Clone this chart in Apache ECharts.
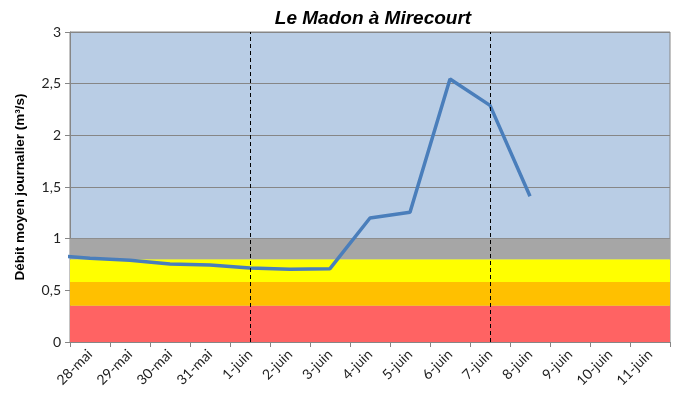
<!DOCTYPE html>
<html>
<head>
<meta charset="utf-8">
<script src="https://cdn.jsdelivr.net/npm/echarts@6/dist/echarts.min.js"></script>
<style>
html,body{margin:0;padding:0;background:#fff}
#chart{width:675px;height:405px}
</style>
</head>
<body>
<div id="chart"></div>
<script>
// jours (27-mai sert juste à faire partir la courbe du bord gauche)
var jours = ['27-mai','28-mai','29-mai','30-mai','31-mai','1-juin','2-juin','3-juin','4-juin','5-juin','6-juin','7-juin','8-juin','9-juin','10-juin','11-juin'];
var debit = [0.84, 0.81, 0.79, 0.755, 0.745, 0.715, 0.705, 0.71, 1.2, 1.255, 2.545, 2.29, 1.41];
// seuils des bandes (m3/s)
var seuils = [0, 0.35, 0.58, 0.8, 1.0];
var reperes = ['1-juin', '7-juin'];

var couleurs = ['#FF6363', '#FFC000', '#FFFF00', '#A6A6A6'];

var bandes = [];
for (var i = 0; i < seuils.length - 1; i++) {
  bandes.push([{yAxis: seuils[i], itemStyle: {color: couleurs[i]}}, {yAxis: seuils[i + 1]}]);
}

var chart = echarts.init(document.getElementById('chart'));
chart.setOption({
  animation: false,
  title: {
    text: 'Le Madon à Mirecourt',
    left: 368,
    top: 4,
    textAlign: 'center',
    textStyle: {fontFamily: 'Liberation Sans', fontSize: 19, fontWeight: 'bold', fontStyle: 'italic', color: '#000'}
  },
  grid: {
    left: 70, right: 5, top: 32, bottom: 63,
    show: true, backgroundColor: '#B9CDE5', borderColor: '#868686', borderWidth: 1
  },
  xAxis: {
    type: 'category',
    data: jours,
    min: 1,
    boundaryGap: true,
    axisLine: {lineStyle: {color: '#868686'}},
    axisTick: {show: true, interval: 0, length: 5, lineStyle: {color: '#868686'}},
    axisLabel: {interval: 0, rotate: 45, fontFamily: 'Lato', fontSize: 14, color: '#222', margin: 10},
    splitLine: {show: false}
  },
  yAxis: {
    type: 'value',
    min: 0, max: 3, interval: 0.5,
    name: 'Débit moyen journalier (m³/s)',
    nameLocation: 'middle',
    nameGap: 43,
    nameTextStyle: {fontFamily: 'Liberation Sans', fontSize: 13.5, fontWeight: 'bold', color: '#000'},
    axisLine: {show: true, lineStyle: {color: '#868686'}},
    axisTick: {show: true, length: 5, lineStyle: {color: '#868686'}},
    axisLabel: {
      fontFamily: 'Lato', fontSize: 14, color: '#222', margin: 9,
      formatter: function (v) { return String(v).replace('.', ','); }
    },
    splitLine: {lineStyle: {color: '#868686', width: 1}}
  },
  series: [
    {
      type: 'line',
      data: [],
      z: 1,
      silent: true,
      markArea: {silent: true, data: bandes},
      markLine: {
        silent: true,
        symbol: 'none',
        label: {show: false},
        lineStyle: {color: '#000', type: [4, 3], width: 1},
        data: reperes.map(function (d) { return {xAxis: d}; })
      }
    },
    {
      type: 'line',
      data: debit,
      z: 3,
      symbol: 'none',
      lineStyle: {color: '#4A7EBB', width: 3.5}
    }
  ]
});
</script>
</body>
</html>
